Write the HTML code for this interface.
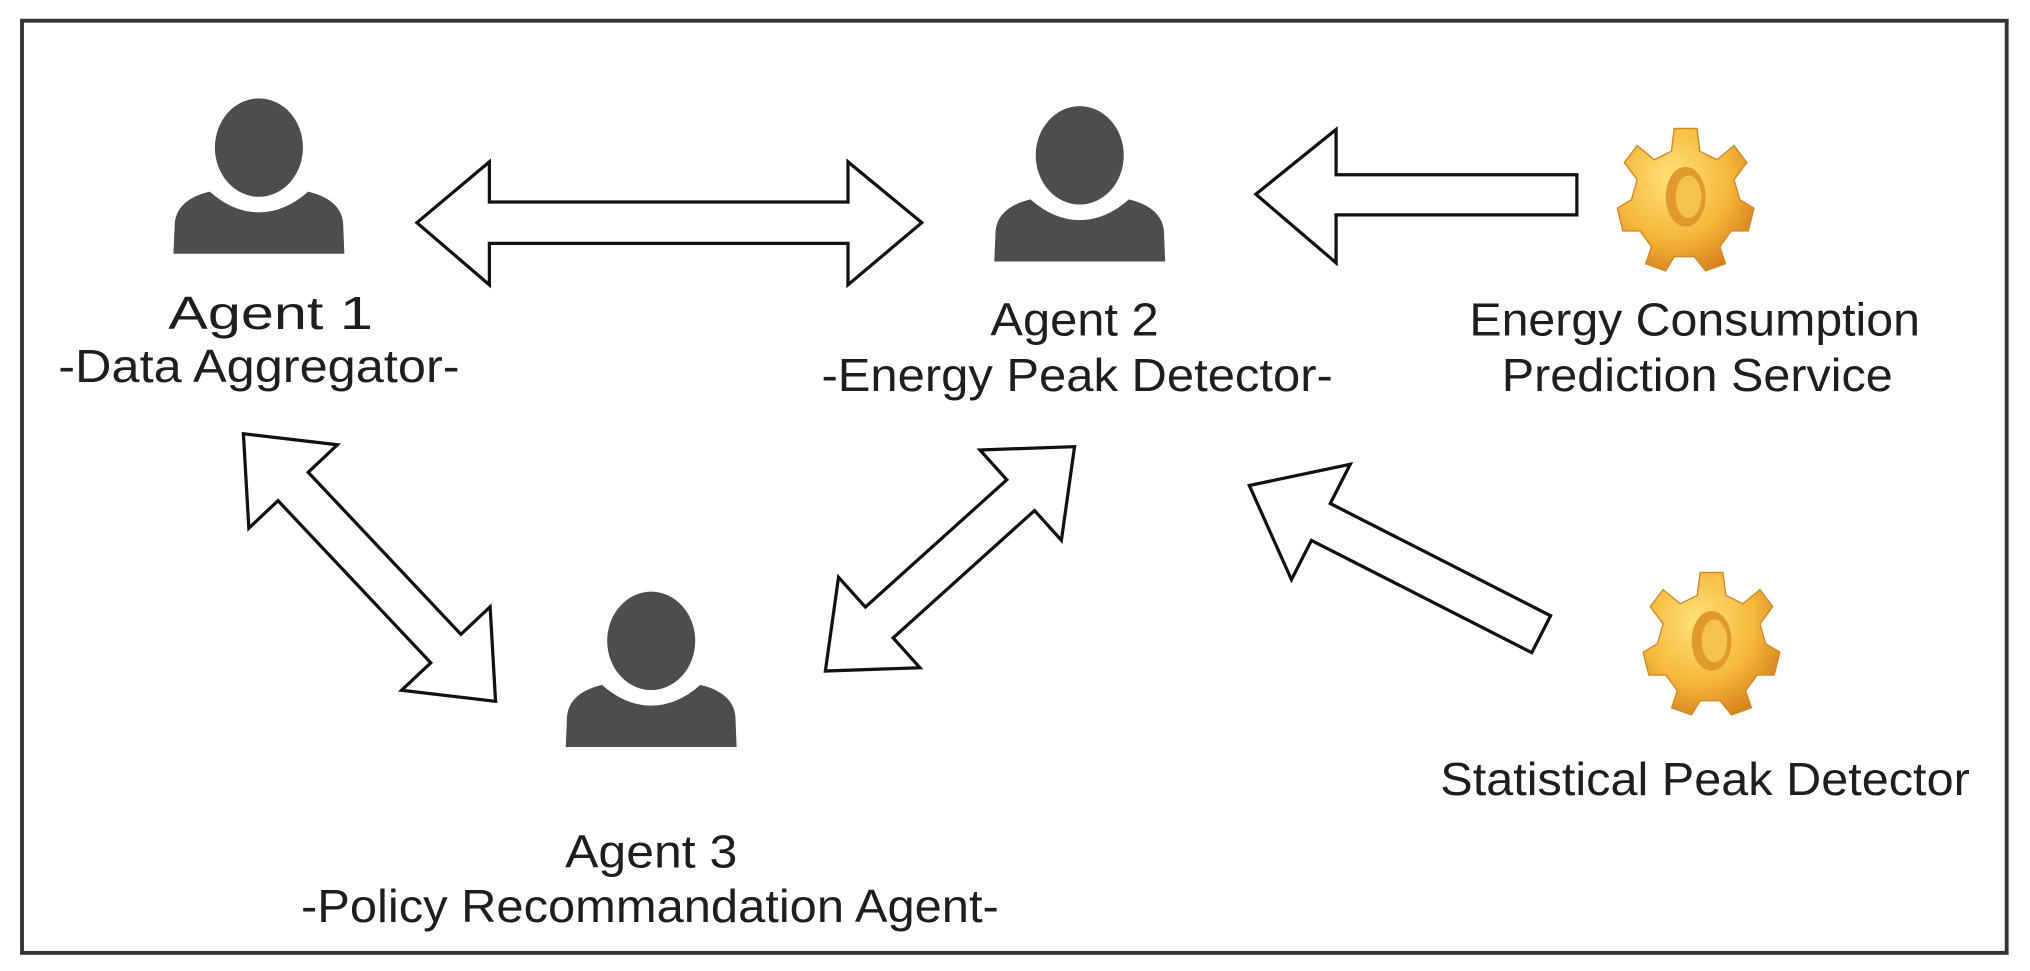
<!DOCTYPE html>
<html><head><meta charset="utf-8"><style>
html,body{margin:0;padding:0;background:#fff;}
svg{display:block;}
text{font-family:"Liberation Sans",Arial,sans-serif;font-size:36px;fill:#1e1e1e;}
</style></head><body>
<svg width="2030" height="971" viewBox="0 0 1568 750" preserveAspectRatio="none" xmlns="http://www.w3.org/2000/svg">
<defs>
<radialGradient id="g" cx="0.4" cy="0.35" r="0.7">
<stop offset="0" stop-color="#ffe27a"/><stop offset="0.6" stop-color="#f5b83a"/><stop offset="1" stop-color="#d7821c"/>
</radialGradient>
<g id="person" fill="#4d4d4d">
<ellipse cx="0" cy="0" rx="34" ry="38"/>
<path d="M-66,82 L-65,58 Q-63,40 -38,34 Q-20,50 0,50 Q20,50 38,34 Q63,40 65,58 L66,82 Z"/>
</g>
<g id="gear" transform="scale(1.1)">
<path fill="url(#g)" stroke="#d08a2a" stroke-width="1" d="M-8,-48 L8,-48 L10,-32 L22,-26 L34,-36 L43,-24 L34,-12 L38,2 L48,8 L44,24 L32,24 L24,35 L28,47 L14,52 L6,42 L-8,42 L-14,52 L-28,47 L-24,35 L-32,24 L-44,24 L-48,8 L-38,2 L-34,-12 L-43,-24 L-34,-36 L-22,-26 L-10,-32 Z"/>
<ellipse cx="0" cy="0" rx="14" ry="21" fill="#e09a2c"/>
<ellipse cx="2" cy="0" rx="9" ry="15" fill="#f6c24e"/>
</g>
</defs>
<rect x="17" y="16" width="1533" height="720" fill="#fff" stroke="#333" stroke-width="3"/>
<use href="#person" x="200" y="114"/>
<use href="#person" x="834" y="120"/>
<use href="#person" x="503" y="495"/>
<use href="#gear" x="1302" y="152"/>
<use href="#gear" x="1322" y="495"/>
<g fill="#fff" stroke="#111" stroke-width="2.5" stroke-linejoin="miter">
<polygon points="322,172 378,125 378,156 655,156 655,125 712,172 655,220 655,188 378,188 378,220"/>
<polygon points="970,150 1032,100 1032,135 1218,135 1218,166 1032,166 1032,203"/>
<g transform="translate(188,335) rotate(46.7)"><polygon points="0,0 56,-47 56,-16 228,-16 228,-47 284,0 228,47 228,16 56,16 56,47"/></g>
<g transform="translate(830,345) rotate(138)"><polygon points="0,0 56,-47 56,-16 203,-16 203,-47 259,0 203,47 203,16 56,16 56,47"/></g>
<g transform="translate(965,375) rotate(27)"><polygon points="0,0 62,-50 62,-16 253,-16 253,16 62,16 62,50"/></g>
</g>
<text x="209" y="254" text-anchor="middle" textLength="158" lengthAdjust="spacingAndGlyphs">Agent 1</text>
<text x="200" y="295" text-anchor="middle" textLength="310" lengthAdjust="spacingAndGlyphs">-Data Aggregator-</text>
<text x="830" y="259" text-anchor="middle" textLength="130" lengthAdjust="spacingAndGlyphs">Agent 2</text>
<text x="832" y="302" text-anchor="middle" textLength="395" lengthAdjust="spacingAndGlyphs">-Energy Peak Detector-</text>
<text x="1309" y="259" text-anchor="middle" textLength="348" lengthAdjust="spacingAndGlyphs">Energy Consumption</text>
<text x="1311" y="302" text-anchor="middle" textLength="302" lengthAdjust="spacingAndGlyphs">Prediction Service</text>
<text x="1317" y="614" text-anchor="middle" textLength="409" lengthAdjust="spacingAndGlyphs">Statistical Peak Detector</text>
<text x="503" y="670" text-anchor="middle" textLength="133" lengthAdjust="spacingAndGlyphs">Agent 3</text>
<text x="502" y="712" text-anchor="middle" textLength="539" lengthAdjust="spacingAndGlyphs">-Policy Recommandation Agent-</text>
</svg>
</body></html>
